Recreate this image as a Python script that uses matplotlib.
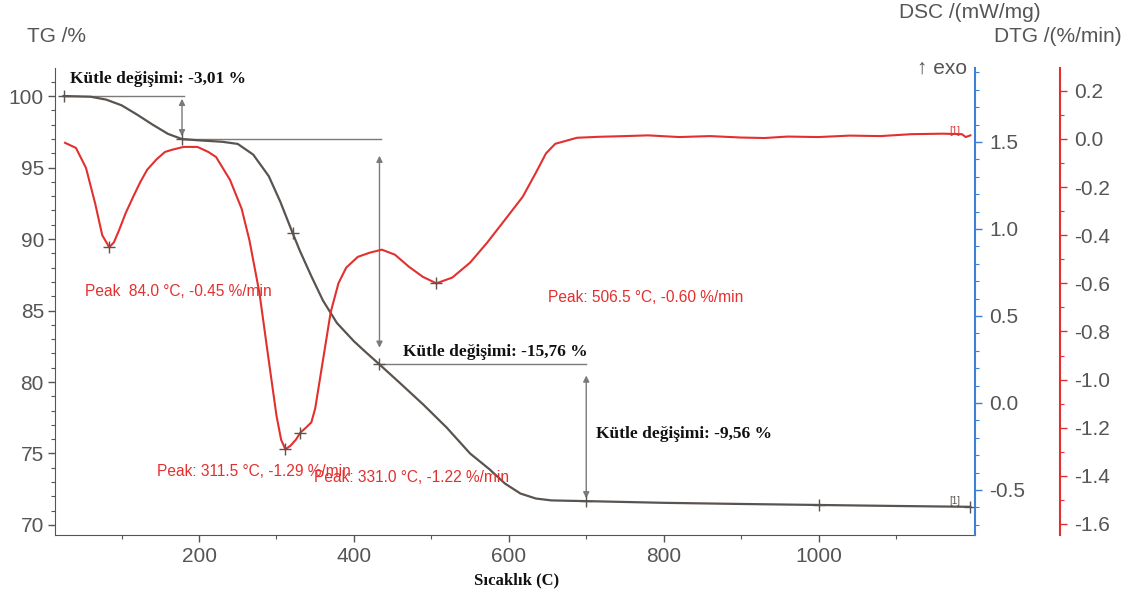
import numpy as np
import matplotlib
matplotlib.use("Agg")
import matplotlib.pyplot as plt
from matplotlib.ticker import MultipleLocator, FixedLocator

plt.rcParams['font.family'] = ['Liberation Sans', 'DejaVu Sans']

# ---------------- data ----------------
# TG curve (mass %)
tg_T = [25, 60, 80, 100, 120, 140, 160, 178, 200, 230, 250, 270, 290, 305, 321,
        330, 345, 360, 378, 400, 415, 433, 460, 490, 520, 550, 575, 595, 615,
        635, 655, 680, 700, 800, 900, 1000, 1100, 1196]
tg_val = [100.0, 99.95, 99.75, 99.35, 98.7, 98.0, 97.35, 96.99, 96.9, 96.8,
          96.65, 95.9, 94.4, 92.6, 90.4, 89.2, 87.4, 85.7, 84.13, 82.85, 82.1,
          81.23, 79.9, 78.4, 76.8, 75.0, 73.9, 72.9, 72.2, 71.85, 71.72, 71.69,
          71.67, 71.55, 71.47, 71.40, 71.33, 71.27]
tg_marks_T = [25, 178, 321, 433, 700, 1000, 1196]

# DTG curve (%/min)
dtg_T = [27, 41, 54, 66, 75, 84, 90, 97, 105, 115, 124, 133, 145, 156, 165, 180,
         198, 212, 222, 240, 255, 265, 278, 290, 300, 306, 311.5, 318, 325, 331,
         338, 345, 350, 356, 362, 370, 380, 390, 405, 420, 436, 453, 471, 489,
         506.5, 527, 550, 572, 595, 618, 635, 648, 660, 688, 716, 750, 780, 820,
         860, 900, 930, 960, 1000, 1040, 1080, 1120, 1160, 1185, 1190, 1196]
dtg_val = [-0.016, -0.037, -0.12, -0.27, -0.40, -0.45, -0.43, -0.377, -0.31,
           -0.24, -0.18, -0.128, -0.085, -0.054, -0.045, -0.033, -0.033, -0.054,
           -0.075, -0.17, -0.29, -0.42, -0.64, -0.92, -1.15, -1.25, -1.29,
           -1.275, -1.25, -1.22, -1.20, -1.178, -1.12, -1.0, -0.88, -0.72, -0.60,
           -0.535, -0.49, -0.473, -0.46, -0.481, -0.531, -0.573, -0.60, -0.576,
           -0.514, -0.431, -0.336, -0.24, -0.14, -0.06, -0.02, 0.005, 0.009,
           0.012, 0.015, 0.008, 0.012, 0.006, 0.004, 0.01, 0.008, 0.014, 0.012,
           0.02, 0.022, 0.02, 0.008, 0.015]

# peaks: (T, DTG, label)
peak_T = [84.0, 311.5, 331.0, 506.5]
peak_val = [-0.45, -1.29, -1.22, -0.60]
peak_text = ["Peak  84.0 °C, -0.45 %/min", "Peak: 311.5 °C, -1.29 %/min",
             "Peak: 331.0 °C, -1.22 %/min", "Peak: 506.5 °C, -0.60 %/min"]

# mass change steps
step_levels = [100.0, 96.99, 81.23, 71.67]
step_T = [178, 433, 700]
step_text = ["Kütle değişimi: -3,01 %", "Kütle değişimi: -15,76 %",
             "Kütle değişimi: -9,56 %"]

x_ticks = [200, 400, 600, 800, 1000]

# ---------------- styles ----------------
c_tg = '#5a5450'
c_red = '#e2302f'
c_blue = '#3f7fd6'
c_txt = '#555555'
c_ref = '#7a7a7a'
fs = 15

fig = plt.figure(figsize=(11.4, 5.96), dpi=100)
ax = fig.add_axes([55 / 1140, 1 - 535 / 596, 920 / 1140, 467 / 596])
ax_dsc = ax.twinx()
ax_dtg = ax.twinx()

ax.set_xlim(14, 1202)
ax.set_ylim(69.3, 101.96)
ax_dsc.set_ylim(-0.759, 1.925)
ax_dtg.set_ylim(-1.646, 0.295)

# spines
for s in ['top', 'right']:
    ax.spines[s].set_visible(False)
for s in ['top', 'left', 'bottom']:
    ax_dsc.spines[s].set_visible(False)
    ax_dtg.spines[s].set_visible(False)
ax.spines['left'].set_color(c_tg)
ax.spines['bottom'].set_color(c_tg)
ax_dsc.spines['right'].set_color(c_blue)
ax_dsc.spines['right'].set_linewidth(1.5)
ax_dtg.spines['right'].set_position(('axes', 1.0924))
ax_dtg.spines['right'].set_color(c_red)
ax_dtg.spines['right'].set_linewidth(1.5)

# ticks
ax.xaxis.set_major_locator(FixedLocator(x_ticks))
ax.xaxis.set_minor_locator(FixedLocator(list(range(100, 1200, 100))))
ax.yaxis.set_major_locator(MultipleLocator(5))
ax.yaxis.set_minor_locator(MultipleLocator(1))
ax_dsc.yaxis.set_major_locator(MultipleLocator(0.5))
ax_dsc.yaxis.set_minor_locator(MultipleLocator(0.1))
ax_dtg.yaxis.set_major_locator(MultipleLocator(0.2))
ax_dtg.yaxis.set_minor_locator(MultipleLocator(0.1))
ax_dsc.yaxis.set_major_formatter(plt.FuncFormatter(lambda v, p: f"{v:.1f}"))
ax_dtg.yaxis.set_major_formatter(plt.FuncFormatter(lambda v, p: f"{v:.1f}"))

ax.tick_params(which='major', colors=c_tg, labelcolor=c_txt, labelsize=fs,
               length=5, width=1)
ax.tick_params(which='minor', colors=c_tg, length=3, width=0.8)
ax.tick_params(axis='x', pad=4)
ax.tick_params(axis='y', pad=3)
ax_dsc.tick_params(which='major', colors=c_blue, labelcolor=c_txt,
                   labelsize=fs, length=5, width=1, pad=5)
ax_dsc.tick_params(which='minor', colors=c_blue, length=3, width=0.8)
ax_dtg.tick_params(which='major', colors=c_red, labelcolor=c_txt,
                   labelsize=fs, length=5, width=1, pad=5)
ax_dtg.tick_params(which='minor', colors=c_red, length=3, width=0.8)

# reference lines for mass steps
ref_x = [(25, 180), (178, 435), (432, 700)]
for (x0, x1), lv in zip(ref_x, step_levels[:3]):
    ax.plot([x0, x1], [lv, lv], color=c_ref, lw=1.0, zorder=2)

# double arrows
shrinks = [(2, 2), (12, 12), (8, 2)]
for t, top, bot, (sa, sb) in zip(step_T, step_levels[:3], step_levels[1:], shrinks):
    ax.annotate('', xy=(t, bot), xytext=(t, top),
                arrowprops=dict(arrowstyle='<|-|>', color=c_ref, lw=1.0,
                                mutation_scale=9, shrinkA=sa, shrinkB=sb),
                zorder=3)

# curves
ax.plot(tg_T, tg_val, color=c_tg, lw=1.6, zorder=4)
ax.plot(tg_marks_T, np.interp(tg_marks_T, tg_T, tg_val), ls='none', marker='+',
        ms=9, mew=1.0, color=c_tg, zorder=5)
ax_dtg.plot(dtg_T, dtg_val, color=c_red, lw=1.5, zorder=4)
ax_dtg.plot(peak_T, peak_val, ls='none', marker='+', ms=9, mew=1.0,
            color=c_tg, zorder=5)

# peak labels
peak_pos = [(53, -0.634), (146, -1.381), (349, -1.406), (651, -0.659)]
for (px, py), txt in zip(peak_pos, peak_text):
    ax_dtg.text(px, py, txt, color=c_red, fontsize=11.2, ha='left', va='center')

# mass change labels
step_pos = [(33, 101.19), (464, 82.1), (712, 76.37)]
for (px, py), txt in zip(step_pos, step_text):
    ax.text(px, py, txt, fontsize=12.5, fontweight='bold', ha='left',
            va='center', family=['Liberation Serif', 'DejaVu Serif'],
            color='#111111', zorder=6)

# small curve tags
ax_dtg.text(1183, 0.012, '[1]', color=c_red, fontsize=7, ha='right', va='bottom')
ax.text(1183, 71.3, '[1]', color=c_tg, fontsize=7, ha='right', va='bottom')

# axis titles
fig.text(27 / 1140, 1 - 36 / 596, 'TG /%', color=c_txt, fontsize=fs,
         ha='left', va='center')
fig.text(899 / 1140, 1 - 13 / 596, 'DSC /(mW/mg)', color=c_txt, fontsize=fs,
         ha='left', va='center')
fig.text(994 / 1140, 1 - 36 / 596, 'DTG /(%/min)', color=c_txt, fontsize=fs,
         ha='left', va='center')
fig.text(967 / 1140, 1 - 68 / 596, '↑ exo', color=c_txt, fontsize=fs,
         ha='right', va='center')
fig.text(517 / 1140, 1 - 580 / 596, 'Sıcaklık (C)', fontsize=12,
         fontweight='bold', family=['Liberation Serif', 'DejaVu Serif'],
         ha='center', va='center', color='#111111')

fig.savefig('out.png', dpi=100)
